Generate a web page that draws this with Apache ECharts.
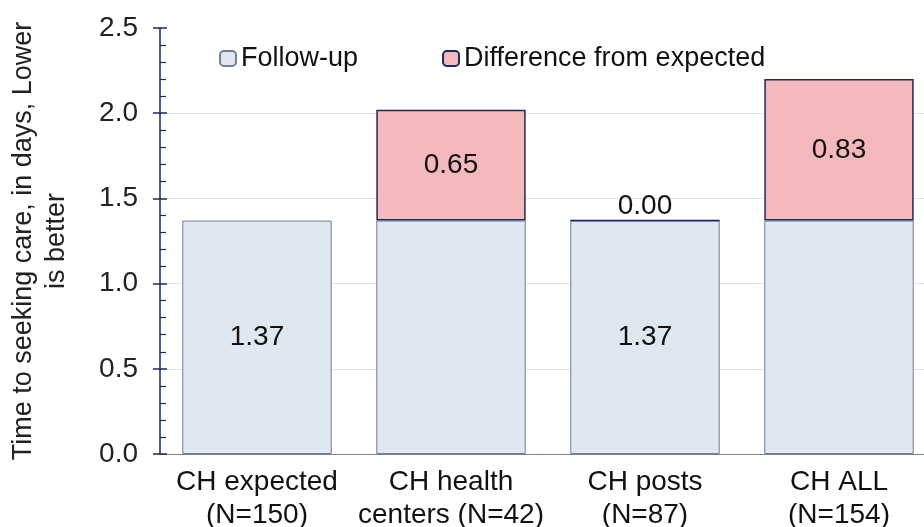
<!DOCTYPE html>
<html><head><meta charset="utf-8">
<script src="https://cdn.jsdelivr.net/npm/echarts@6/dist/echarts.min.js"></script>
<style>html,body{margin:0;padding:0;background:#fff}#c{width:924px;height:527px}</style>
</head><body><div id="c"></div>
<script>
const categories = ['CH expected\n(N=150)', 'CH health\ncenters (N=42)', 'CH posts\n(N=87)', 'CH ALL\n(N=154)'];
const followUp = [1.37, 1.37, 1.37, 1.37];
const followUpLabelShown = [true, false, true, false];
const difference = [null, 0.65, 0.00, 0.83];
const seriesNames = ['Follow-up', 'Difference from expected'];
const yTicks = [0, 0.5, 1.0, 1.5, 2.0, 2.5];

const font = 'Liberation Sans, Arial, sans-serif';
const navy = '#1b2a5c';
const fs = 28;
const chart = echarts.init(document.getElementById('c'));
chart.setOption({
  animation: false,
  backgroundColor: '#fff',
  textStyle: {fontFamily: font},
  legend: {
    top: 40, left: 214, itemGap: 84, itemWidth: 16, itemHeight: 15,
    textStyle: {fontSize: 27, color: '#111', fontFamily: font},
    data: seriesNames
  },
  grid: {left: 160, top: 28, width: 776, height: 426, containLabel: false, outerBoundsMode: 'none'},
  xAxis: {
    type: 'category', data: categories,
    axisLine: {lineStyle: {color: '#7a8090', width: 1}},
    axisTick: {show: false},
    axisLabel: {interval: 0, fontSize: fs, color: '#111', lineHeight: 33, margin: 12, fontFamily: font}
  },
  yAxis: [{
    type: 'value', min: yTicks[0], max: yTicks[yTicks.length - 1], interval: 0.5,
    name: 'Time to seeking care, in days, Lower\nis better',
    nameLocation: 'middle', nameGap: 87,
    nameTextStyle: {fontSize: 27, color: '#222', lineHeight: 33, fontFamily: font},
    axisLine: {show: true, lineStyle: {color: navy, width: 1.5}},
    axisTick: {show: true, inside: true, length: 7, lineStyle: {color: navy, width: 1.5}},
    minorTick: {show: true, splitNumber: 5, length: 6, lineStyle: {color: navy, width: 1.2}},
    axisLabel: {fontSize: fs, color: '#222', margin: 22, formatter: v => v.toFixed(1), fontFamily: font},
    splitLine: {show: true, showMaxLine: false, lineStyle: {color: '#e3e3e3', width: 1}}
  }, {
    type: 'value', min: yTicks[0], max: yTicks[yTicks.length - 1], interval: 0.5, position: 'left',
    axisLine: {show: false},
    axisTick: {show: true, inside: false, length: 7, lineStyle: {color: navy, width: 1.5}},
    axisLabel: {show: false}, splitLine: {show: false}
  }],
  series: [{
    name: seriesNames[0], type: 'bar', stack: 's', barCategoryGap: '23%',
    itemStyle: {color: '#dfe7f1', borderColor: '#6f7f95', borderWidth: 1},
    data: followUp.map((v, i) => ({value: v, label: {show: followUpLabelShown[i]}})),
    label: {position: 'inside', fontSize: fs, color: '#111', formatter: p => p.value.toFixed(2), fontFamily: font}
  }, {
    name: seriesNames[1], type: 'bar', stack: 's',
    itemStyle: {color: '#f5b9bd', borderColor: navy, borderWidth: 1.5},
    data: difference.map(v => v === null ? '-' : (v === 0 ? {value: v, label: {position: 'top', distance: 0}} : v)),
    label: {show: true, position: 'inside', fontSize: fs, color: '#111', formatter: p => (+p.value).toFixed(2), fontFamily: font}
  }]
});
</script></body></html>
